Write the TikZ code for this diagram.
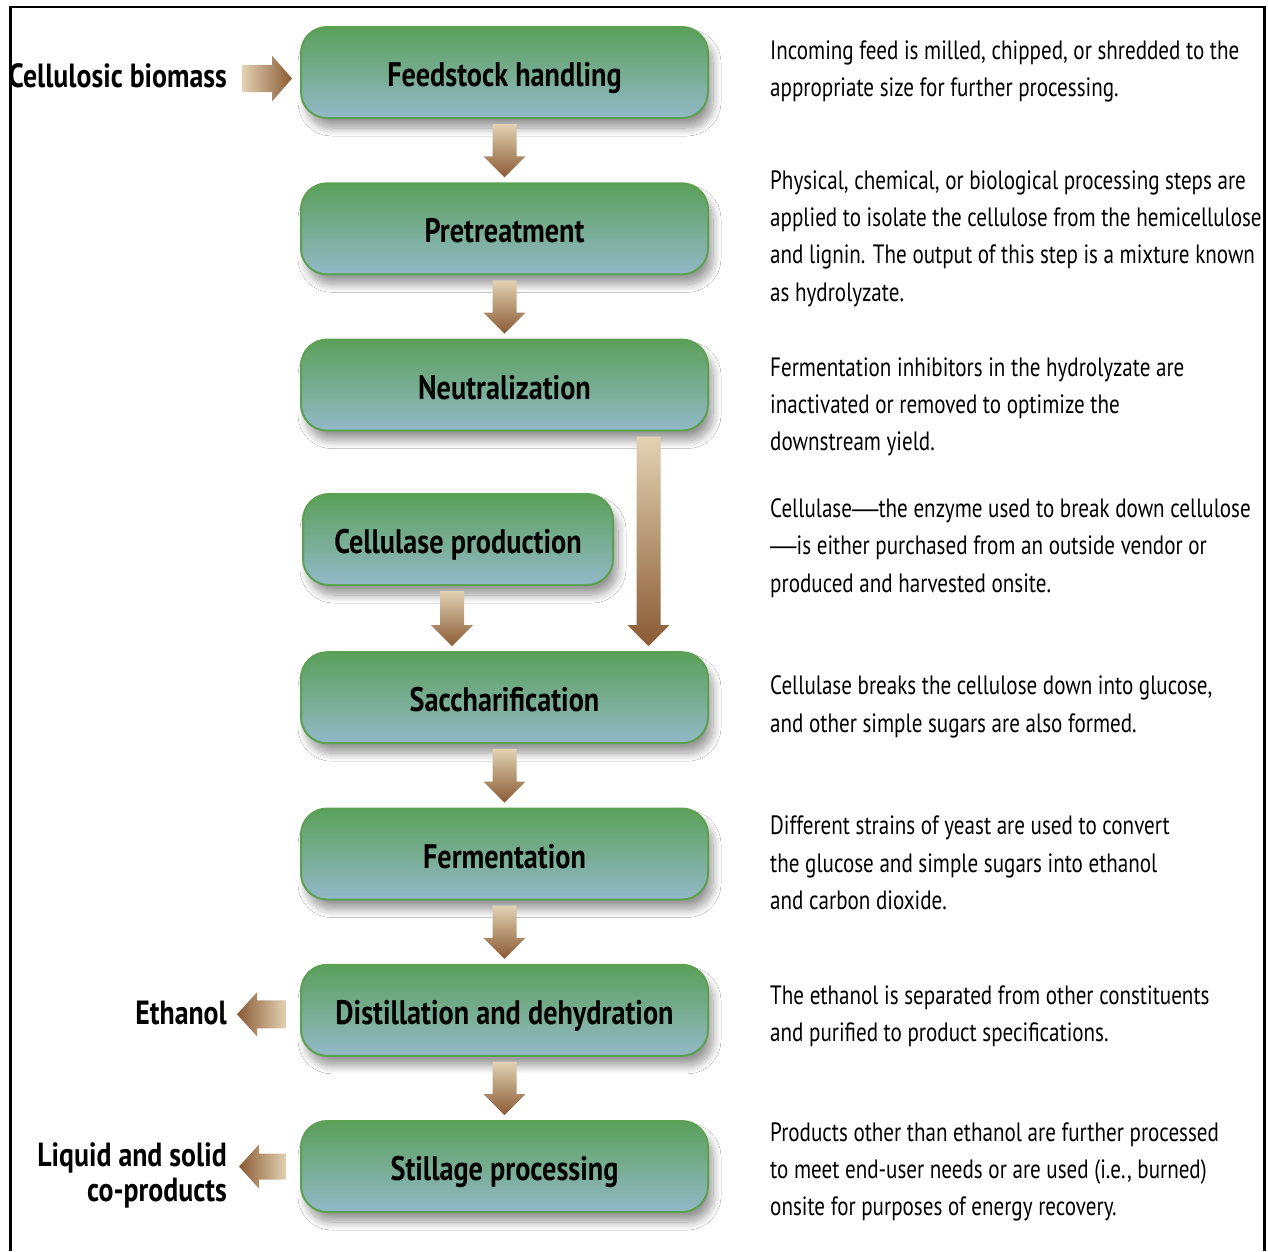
\documentclass[tikz,border=0pt]{standalone}
\usepackage{fontspec}
\setmainfont{PT Sans}[FakeStretch=0.795]
\newfontfamily\labelfont{PT Sans}[FakeStretch=0.83]
\newfontfamily\dashfont{Liberation Sans}
\newcommand{\longdash}{{\dashfont —}}
\usetikzlibrary{shadows.blur,calc}
\definecolor{boxtop}{HTML}{5AA05A}
\definecolor{boxbot}{HTML}{93B9C8}
\definecolor{boxline}{HTML}{5CA052}
\definecolor{tanlight}{HTML}{E2D2B2}
\definecolor{tandark}{HTML}{8A5A34}
\tikzset{
  stepbox/.style={rectangle, rounded corners=26pt, draw=boxline, line width=2pt,
    top color=boxtop, bottom color=boxbot, minimum height=91pt, minimum width=407pt,
    inner sep=0pt, text height=29pt, text depth=1pt,
    font=\labelfont\fontsize{34}{38}\selectfont\bfseries,
    blur shadow={shadow xshift=5pt, shadow yshift=-10pt, shadow blur radius=8pt,
      shadow blur steps=14, shadow opacity=40}},
  sidelabel/.style={font=\labelfont\fontsize{33.5}{35}\selectfont\bfseries, align=right, anchor=east, inner sep=0pt},
  desc/.style={font=\fontsize{26.5}{37.3}\selectfont, align=left, anchor=west, inner sep=0pt},
  downshade/.style={top color=tanlight, bottom color=tandark},
  rightshade/.style={left color=tanlight, right color=tandark},
  leftshade/.style={left color=tandark, right color=tanlight},
}
\newcommand{\vblock}[3]{%
  \shade[downshade] let \p1=(#1.south), \p2=(#2.north) in
    (\x1+#3pt-12pt,\y1-5pt) -- (\x1+#3pt+12pt,\y1-5pt) -- (\x1+#3pt+12pt,\y2+26pt)
    -- (\x1+#3pt+21pt,\y2+26pt) -- (\x1+#3pt,\y2+5pt) -- (\x1+#3pt-21pt,\y2+26pt)
    -- (\x1+#3pt-12pt,\y2+26pt) -- cycle;}
\begin{document}
\begin{tikzpicture}[x=1pt,y=-1pt]
\useasboundingbox (0,0) rectangle (1268,1251);
\fill[white] (0,0) rectangle (1268,1251);
\draw[line width=2.5pt] (10.5,1251) -- (10.5,7) -- (1264.5,7) -- (1264.5,1251);

% boxes
\node[stepbox] (feed) at (504.5,72.5) {Feedstock handling};
\node[stepbox] (pre) at (504.5,228.8) {Pretreatment};
\node[stepbox] (neut) at (504.5,385.1) {Neutralization};
\node[stepbox, minimum width=310pt] (cell) at (458,539.5) {Cellulase production};
\node[stepbox] (sacc) at (504.5,697.7) {Saccharification};
\node[stepbox] (ferm) at (504.5,854) {Fermentation};
\node[stepbox] (dist) at (504.5,1010.3) {Distillation and dehydration};
\node[stepbox] (still) at (504.5,1166.5) {Stillage processing};

% side labels
\node[sidelabel] (bio) at (227,76) {Cellulosic biomass};
\node[sidelabel] (eth) at (227,1013) {Ethanol};
\node[sidelabel] (cop) at (227,1175) {Liquid and solid\\co-products};

% vertical arrows
\vblock{feed}{pre}{0}
\vblock{pre}{neut}{0}
\vblock{neut}{sacc}{144}
\vblock{cell}{sacc}{-6}
\vblock{sacc}{ferm}{0}
\vblock{ferm}{dist}{0}
\vblock{dist}{still}{0}

% horizontal arrows
\shade[rightshade] let \p1=(bio.east), \p2=(feed.west) in
  (\x1+15pt,\y2-19.5pt) -- (\x2-28pt,\y2-19.5pt) -- (\x2-28pt,\y2-6pt+23pt)
  -- (\x2-8pt,\y2-6pt) -- (\x2-28pt,\y2-6pt-23pt) -- (\x2-28pt,\y2+7.5pt)
  -- (\x1+15pt,\y2+7.5pt) -- cycle;
\shade[leftshade] let \p1=(eth.east), \p2=(dist.west) in
  (\x2-14pt,\y2-4pt+14pt) -- (\x1+30pt,\y2-4pt+14pt) -- (\x1+30pt,\y2-4pt+22pt)
  -- (\x1+10pt,\y2-4pt) -- (\x1+30pt,\y2-4pt-22pt) -- (\x1+30pt,\y2-4pt-14pt)
  -- (\x2-14pt,\y2-4pt-14pt) -- cycle;
\shade[leftshade] let \p1=(cop.east), \p2=(still.west) in
  (\x2-14pt,\y2+13pt) -- (\x1+32pt,\y2+13pt) -- (\x1+32pt,\y2+22pt)
  -- (\x1+12pt,\y2) -- (\x1+32pt,\y2-22pt) -- (\x1+32pt,\y2-13pt)
  -- (\x2-14pt,\y2-13pt) -- cycle;

% descriptions
\node[desc] (d1) at (770,71.5) {Incoming feed is milled, chipped, or shredded to the\\appropriate size for further processing.};
\node[desc] (d2) at (770,238.5) {Physical, chemical, or biological processing steps are\\applied to isolate the cellulose from the hemicellulose\\and lignin. The output of this step is a mixture known\\as hydrolyzate.};
\node[desc] (d3) at (770,407) {Fermentation inhibitors in the hydrolyzate are\\inactivated or removed to optimize the\\downstream yield.};
\node[desc] (d4) at (770,548) {Cellulase\longdash the enzyme used to break down cellulose\\\longdash is either purchased from an outside vendor or\\produced and harvested onsite.};
\node[desc] (d5) at (770,707) {Cellulase breaks the cellulose down into glucose,\\and other simple sugars are also formed.};
\node[desc] (d6) at (770,863) {Different strains of yeast are used to convert\\the glucose and simple sugars into ethanol\\and carbon dioxide.};
\node[desc] (d7) at (770,1016.5) {The ethanol is separated from other constituents\\and purified to product specifications.};
\node[desc] (d8) at (770,1172) {Products other than ethanol are further processed\\to meet end-user needs or are used (i.e., burned)\\onsite for purposes of energy recovery.};
\end{tikzpicture}
\end{document}
